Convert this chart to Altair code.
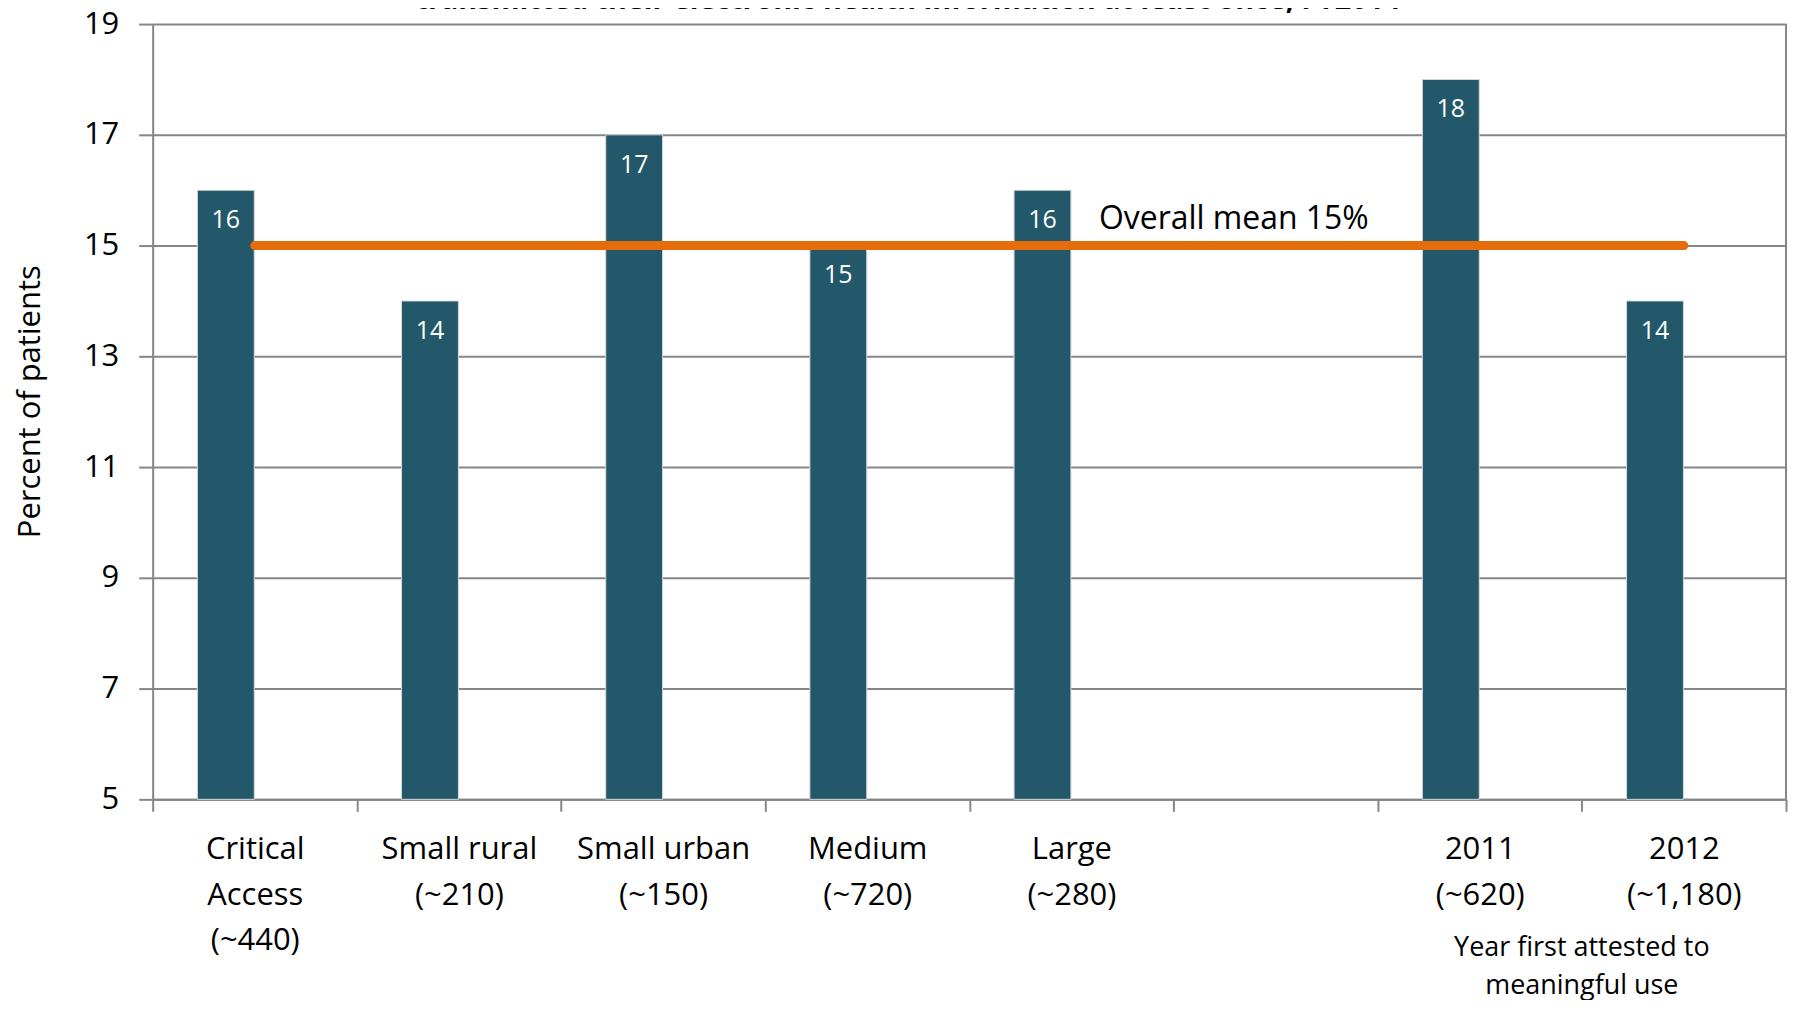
import altair as alt
import pandas as pd

# ---- data ----
categories = ["Critical|Access|(~440)", "Small rural|(~210)", "Small urban|(~150)",
              "Medium|(~720)", "Large|(~280)", " ", "2011|(~620)", "2012|(~1,180)"]
bar_categories = ["Critical|Access|(~440)", "Small rural|(~210)", "Small urban|(~150)",
                  "Medium|(~720)", "Large|(~280)", "2011|(~620)", "2012|(~1,180)"]
percents = [16, 14, 17, 15, 16, 18, 14]
y_ticks = [5, 7, 9, 11, 13, 15, 17, 19]
y_domain = [5, 19]
mean_value = 15
mean_span = ["Critical|Access|(~440)", "2012|(~1,180)"]
mean_label = "Overall mean 15%"
mean_label_anchor = "Large|(~280)"
group_note = ["Year first attested to", "meaningful use"]
group_note_anchor = "2012|(~1,180)"
title_text = "transmitted their electronic health information at least once, FY2014"
y_title = "Percent of patients"

# ---- styling ----
W, H = 1637, 777
FONT = "Open Sans"
BAR = "#22586A"
ORANGE = "#E46C0A"
GRAY = "#868686"

bars_df = pd.DataFrame({"cat": bar_categories, "pct": percents, "base": [y_domain[0]] * len(percents)})
mean_df = pd.DataFrame({"cat": mean_span, "val": [mean_value] * len(mean_span)})
one = pd.DataFrame({"a": [0]})

xscale = alt.Scale(domain=categories, paddingInner=0, paddingOuter=0)
yscale = alt.Scale(domain=y_domain, nice=False, zero=False)

x_axis = alt.Axis(
    title=None, labelExpr="isValid(datum.value) ? split(datum.value, '|') : ''", labelAngle=0,
    labelFontSize=31, labelLineHeight=46, labelBaseline="top", labelPadding=23,
    labelColor="#000000", labelFont=FONT, tickBand="extent", tickSize=12,
    tickColor=GRAY, tickWidth=2, domainColor=GRAY, domainWidth=2, grid=False,
)
y_axis = alt.Axis(
    values=y_ticks, format="d", title=y_title, titleFontSize=31, titleFont=FONT,
    titleFontWeight="normal", titleColor="#000000", titleX=-122, titleY=378,
    titleBaseline="middle", titleAlign="center", titleAngle=270,
    labelFontSize=31, labelFont=FONT, labelColor="#000000", labelPadding=20,
    tickSize=14, tickColor=GRAY, tickWidth=2, domainColor=GRAY, domainWidth=2,
    grid=True, gridColor=GRAY, gridWidth=2,
)

bars = alt.Chart(bars_df).mark_bar(
    width=57, xOffset=-29, color=BAR, stroke="#D9D9D9", strokeWidth=1
).encode(
    x=alt.X("cat:N", scale=xscale, sort=categories, axis=x_axis),
    y=alt.Y("pct:Q", scale=yscale, axis=y_axis),
    y2="base:Q",
)

bar_labels = alt.Chart(bars_df).mark_text(
    color="white", fontSize=25, font=FONT, dy=30, xOffset=-29, baseline="middle"
).encode(
    x=alt.X("cat:N", scale=xscale, sort=categories),
    y=alt.Y("pct:Q", scale=yscale),
    text=alt.Text("pct:Q"),
)

mean_line = alt.Chart(mean_df).mark_line(
    color=ORANGE, strokeWidth=9, strokeCap="round"
).encode(
    x=alt.X("cat:N", scale=xscale, sort=categories),
    y=alt.Y("val:Q", scale=yscale),
)

mean_text = alt.Chart(one).mark_text(
    text=mean_label, fontSize=32, font=FONT, align="left", baseline="middle", dy=-27, color="#000000"
).encode(
    x=alt.X(datum=mean_label_anchor, type="nominal", bandPosition=0.635),
    y=alt.Y(datum=mean_value, type="quantitative"),
)

note = alt.Chart(one).mark_text(
    text=group_note, fontSize=27, font=FONT, lineHeight=38, align="center",
    baseline="middle", color="#000000"
).encode(
    x=alt.X(datum=group_note_anchor, type="nominal", bandPosition=0),
    y=alt.value(926),
)

right_border = alt.Chart(one).mark_rule(color=GRAY, strokeWidth=2).encode(
    x=alt.value(W), y=alt.value(0), y2=alt.value(H)
)

title = alt.Chart(one).mark_text(
    text=title_text, fontSize=28.7, font=FONT, fontWeight="bold", align="center",
    baseline="alphabetic", color="#000000"
).encode(x=alt.value(757), y=alt.value(-15.5))

chart = alt.layer(
    bars, bar_labels, mean_line, mean_text, note, right_border, title
).properties(
    width=W, height=H,
    padding={"left": 145, "top": 15, "right": 3, "bottom": 200},
    autosize=alt.AutoSizeParams(type="none"),
    background="white",
).configure_view(stroke=None).configure(font=FONT)

chart.save("out.html", embed_options={"renderer": "svg", "actions": False})
